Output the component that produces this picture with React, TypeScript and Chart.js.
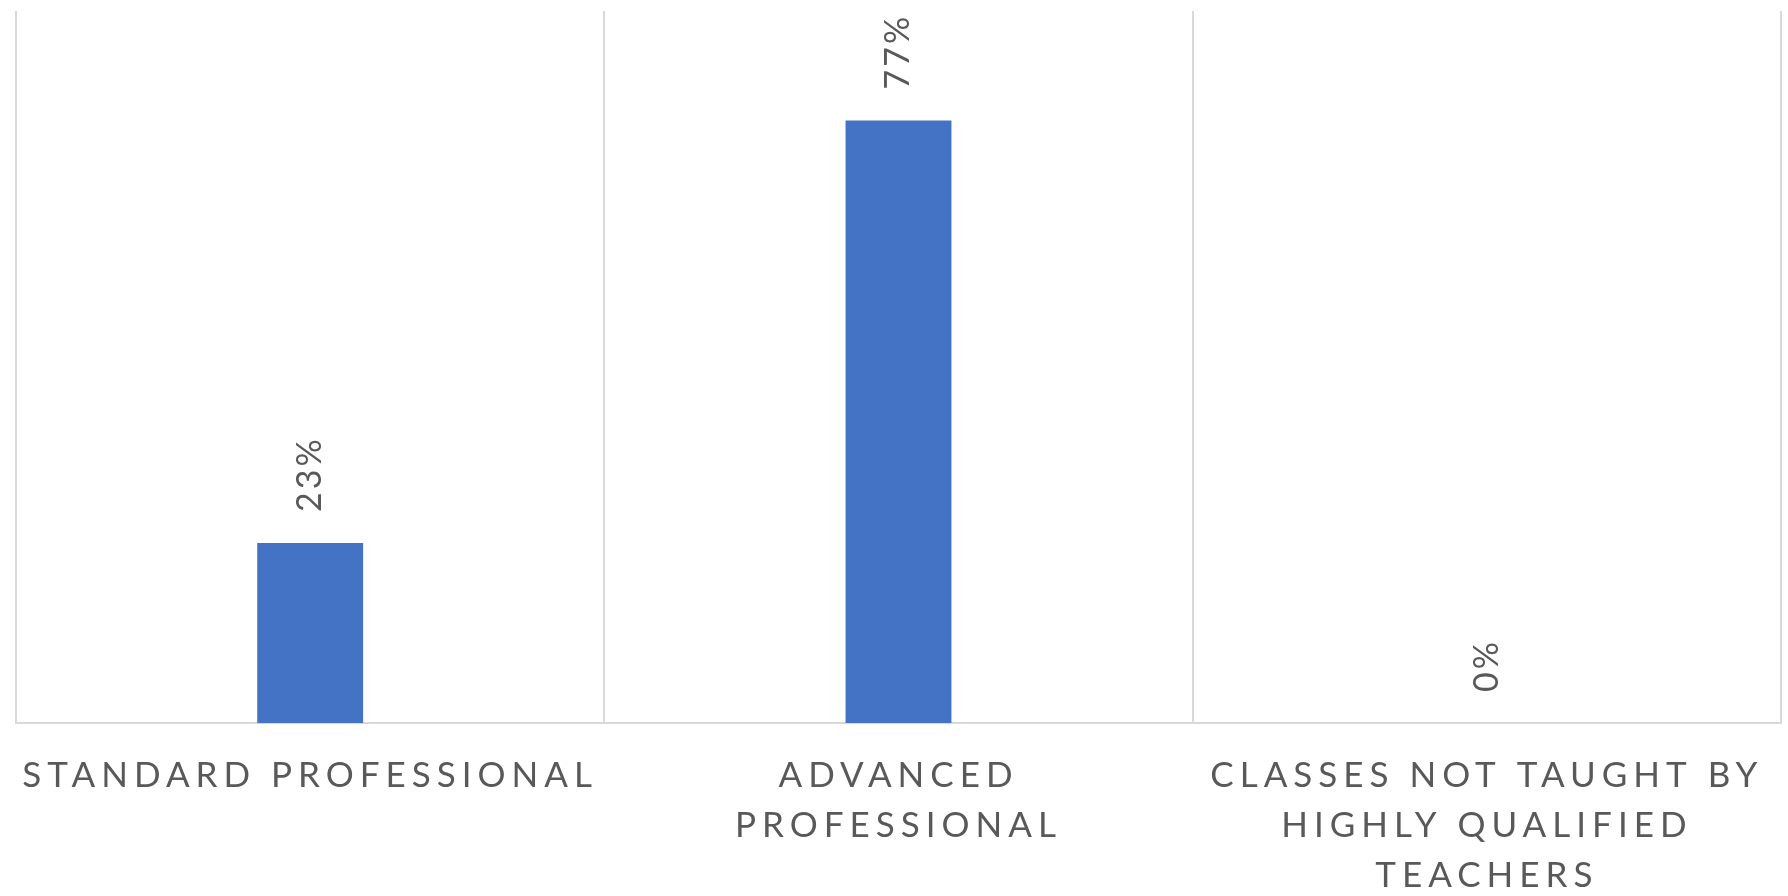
import React, { useEffect, useRef } from "react";
import { Chart, registerables } from "chart.js";

Chart.register(...registerables);

const categories: string[][] = [
  ["STANDARD PROFESSIONAL"],
  ["ADVANCED", "PROFESSIONAL"],
  ["CLASSES NOT TAUGHT BY", "HIGHLY QUALIFIED", "TEACHERS"],
];
const values: number[] = [23, 77, 0];
const valueLabels: string[] = ["23%", "77%", "0%"];
const yMax = 91;

const FONT = "Lato, 'Open Sans', sans-serif";
const TEXT_COLOR = "#595959";
const LINE_COLOR = "#d9d9d9";
const BAR_COLOR = "#4472c4";

const spacingPlugin = {
  id: "letterSpacing",
  beforeUpdate(chart: any) {
    chart.ctx.letterSpacing = "6px";
  },
  beforeDraw(chart: any) {
    chart.ctx.letterSpacing = "6px";
  },
};

const valueLabelPlugin = {
  id: "valueLabels",
  afterDatasetsDraw(chart: any) {
    const ctx = chart.ctx;
    const meta = chart.getDatasetMeta(0);
    ctx.save();
    ctx.letterSpacing = "3px";
    ctx.font = `34px ${FONT}`;
    ctx.fillStyle = TEXT_COLOR;
    ctx.textAlign = "left";
    ctx.textBaseline = "middle";
    meta.data.forEach((bar: any, i: number) => {
      const { x, y } = bar.getProps(["x", "y"], true);
      ctx.save();
      ctx.translate(x, y - 31);
      ctx.rotate(-Math.PI / 2);
      ctx.fillText(valueLabels[i], 0, 0);
      ctx.restore();
    });
    ctx.restore();
  },
};

export default function App() {
  const ref = useRef<HTMLCanvasElement | null>(null);
  useEffect(() => {
    if (!ref.current) return;
    const chart = new Chart(ref.current, {
      type: "bar",
      data: {
        labels: categories,
        datasets: [
          {
            data: values,
            backgroundColor: BAR_COLOR,
            borderWidth: 0,
            barPercentage: 0.18,
            categoryPercentage: 1,
          },
        ],
      },
      options: {
        animation: false,
        responsive: false,
        devicePixelRatio: 1,
        layout: { padding: { left: 16, right: 7, top: 11, bottom: 0 } },
        plugins: { legend: { display: false }, tooltip: { enabled: false } },
        scales: {
          x: {
            grid: { color: LINE_COLOR, lineWidth: 2, drawTicks: false, offset: true },
            border: { color: LINE_COLOR, width: 2 },
            ticks: {
              color: TEXT_COLOR,
              padding: 28,
              maxRotation: 0,
              autoSkip: false,
              font: { family: FONT, size: 35, lineHeight: 50 / 35 },
            },
            afterFit(scale: any) {
              scale.height = 173;
              scale.paddingLeft = 0;
              scale.paddingRight = 0;
            },
          },
          y: {
            display: false,
            min: 0,
            max: yMax,
          },
        },
      },
      plugins: [spacingPlugin, valueLabelPlugin],
    });
    return () => chart.destroy();
  }, []);
  return (
    <div style={{ position: "absolute", left: 0, top: 0, width: 1788, height: 896, background: "#fff" }}>
      <canvas ref={ref} width={1788} height={896} style={{ width: 1788, height: 896, display: "block" }} />
    </div>
  );
}
